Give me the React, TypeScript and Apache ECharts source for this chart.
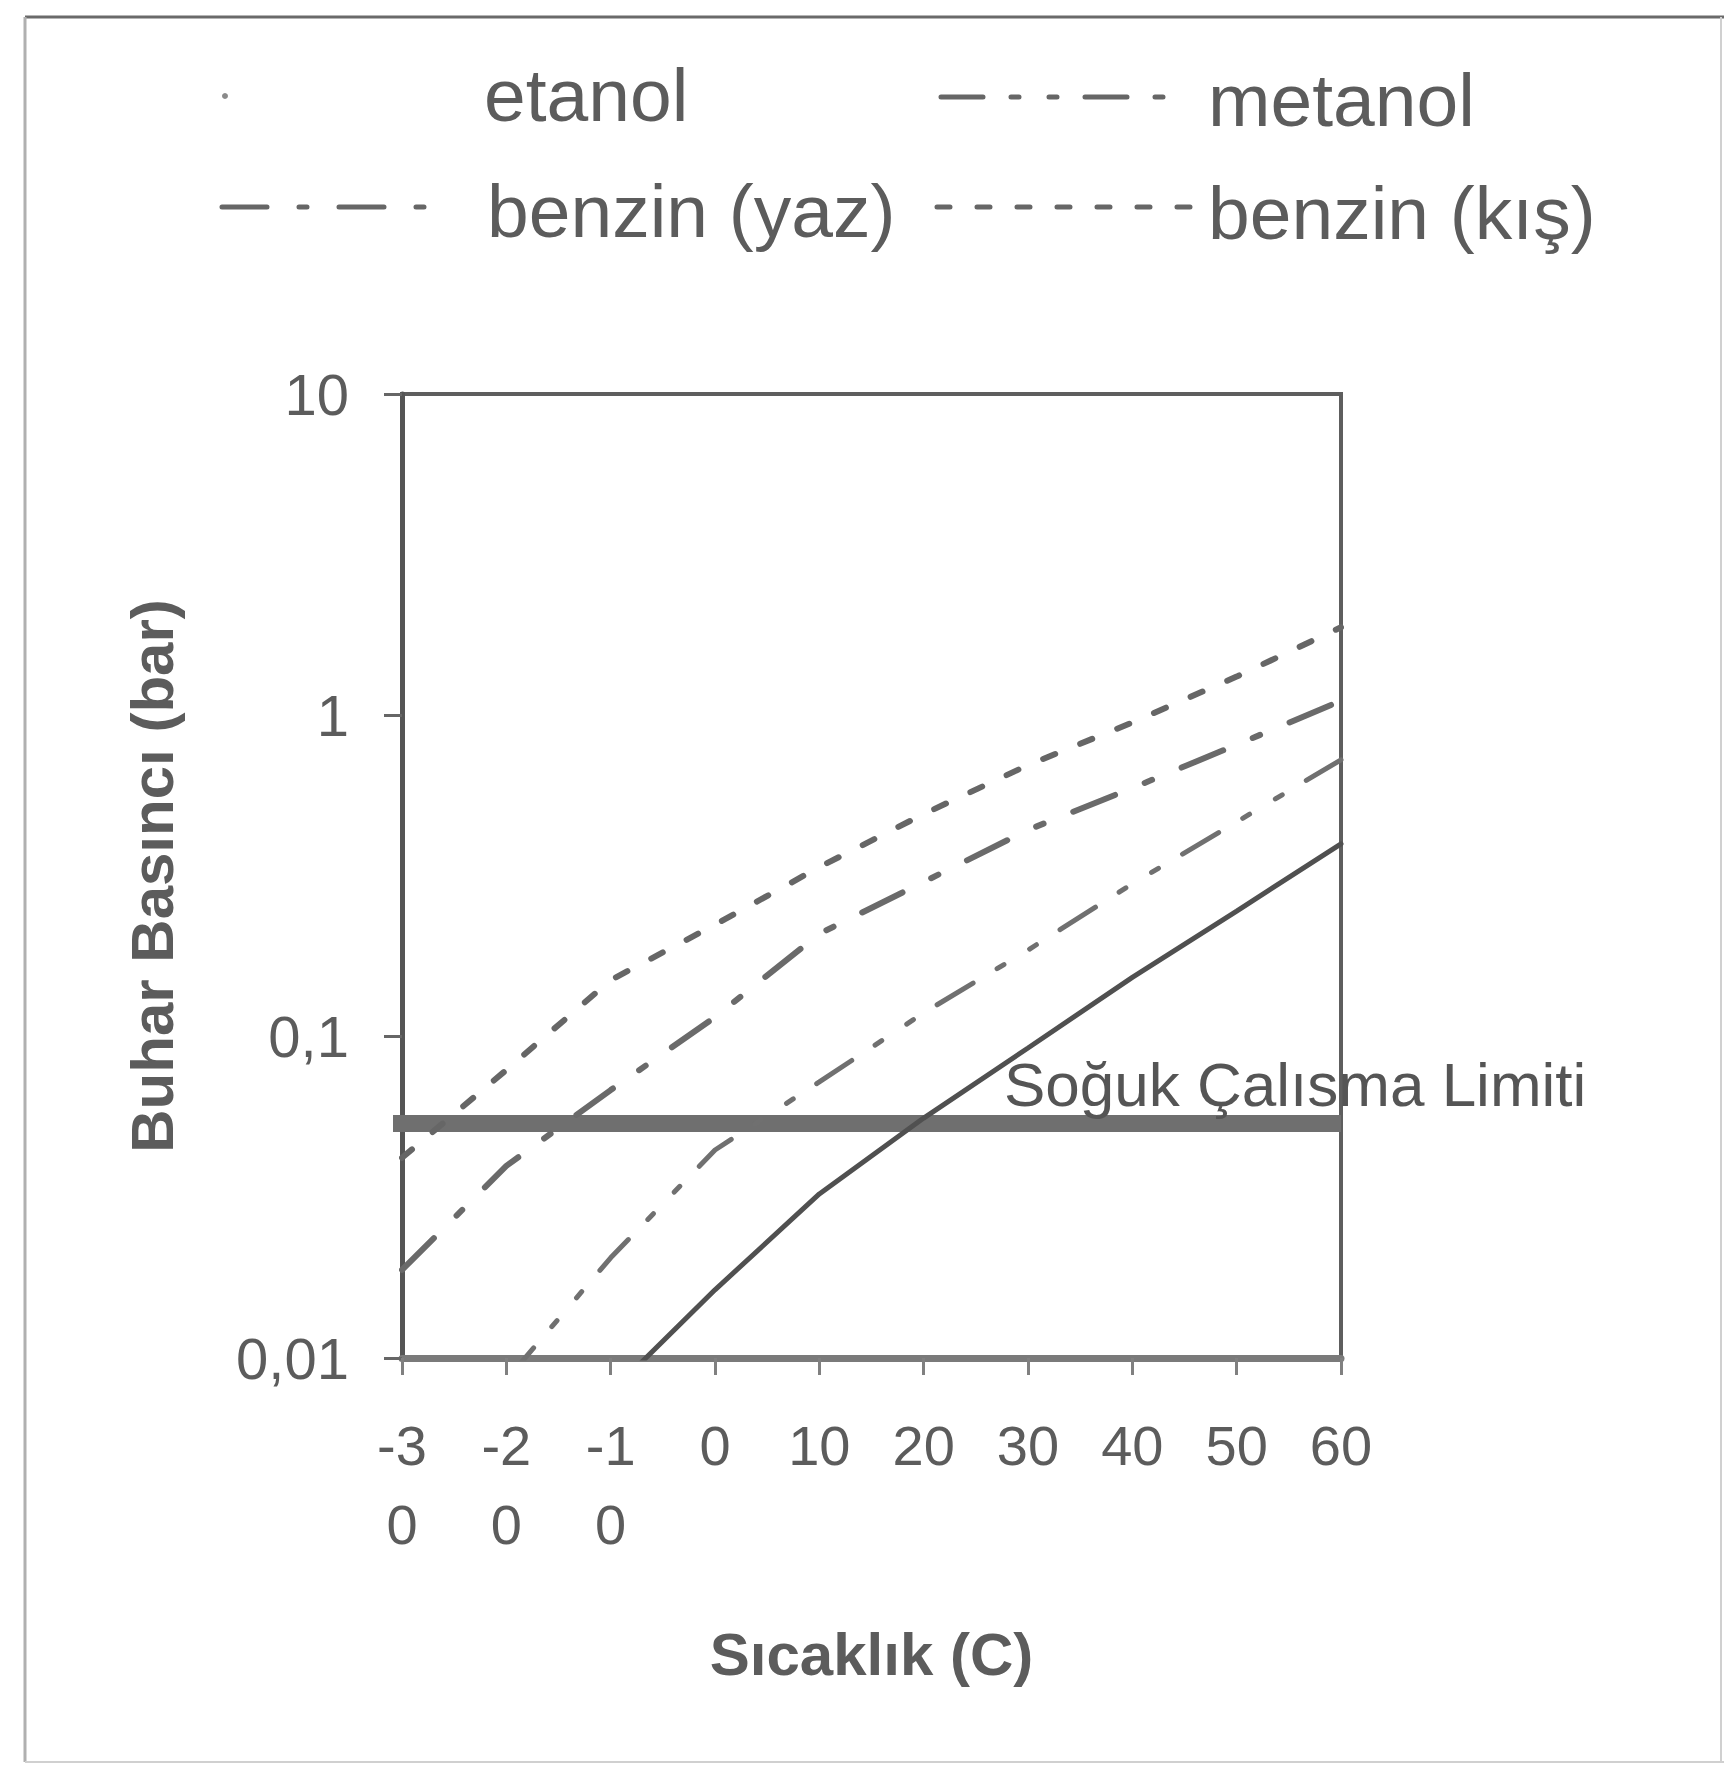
import React, { useEffect, useRef } from "react";
import * as echarts from "echarts";

// ---- data ----
const temperatures = [-30, -20, -10, 0, 10, 20, 30, 40, 50, 60];
const xTickLabels = ["-3\n0", "-2\n0", "-1\n0", "0", "10", "20", "30", "40", "50", "60"];
const yTickValues = [0.01, 0.1, 1, 10];
const yTickLabels = ["0,01", "0,1", "1", "10"];

const etanol = [null, null, 0.0078, 0.0163, 0.0324, 0.0558, 0.0922, 0.153, 0.246, 0.398];
const metanol = [null, 0.00855, 0.0205, 0.0444, 0.0723, 0.1186, 0.186, 0.299, 0.466, 0.727];
const benzinYaz = [0.0188, 0.0396, 0.0682, 0.115, 0.209, 0.303, 0.44, 0.594, 0.81, 1.11];
const benzinKis = [0.042, 0.0788, 0.15, 0.223, 0.337, 0.493, 0.7, 0.95, 1.32, 1.88];

const limitValue = 0.0537;
const limitRange = [-32.6, 60];
const limitLabel = "Soğuk Çalısma Limiti";

const seriesNames = ["etanol", "metanol", "benzin (yaz)", "benzin (kış)"];
const xAxisName = "Sıcaklık (C)";
const yAxisName = "Buhar Basıncı (bar)";

// ---- styles ----
const FONT = '"Liberation Sans", Arial, sans-serif';
const TEXT = "#5c5c5c";
const dashMetanol = [42, 28, 8, 30, 8, 28];
const dashYaz = [45, 32, 8, 32];
const dashKis = [13, 27];

const pairs = (vals: (number | null)[]) =>
  temperatures.map((t, i) => [t, vals[i]]).filter((p) => p[1] != null);

function buildOption() {
  const lineSeries = (name: string, vals: (number | null)[], type: any, width: number, color: string) => ({
    name,
    type: "line",
    data: pairs(vals),
    showSymbol: false,
    symbol: "none",
    smooth: false,
    clip: true,
    lineStyle: { color, width, type, cap: "round" },
    z: 3,
  });

  const legendText = (text: string, x: number, y: number) => ({
    type: "text",
    x,
    y,
    style: { text, fontSize: 75, fontFamily: FONT, fill: TEXT, verticalAlign: "middle", align: "left" },
  });
  const legendLine = (x1: number, x2: number, y: number, dash: number[] | null, width: number) => ({
    type: "line",
    shape: { x1, y1: y, x2, y2: y },
    style: { stroke: "#666", lineWidth: width, lineDash: dash || undefined, lineCap: "round" },
  });

  return {
    animation: false,
    backgroundColor: "#ffffff",
    textStyle: { fontFamily: FONT },
    grid: {
      left: 402,
      top: 394,
      right: 383,
      bottom: 409,
      containLabel: false,
      outerBoundsMode: "none",
      show: true,
      borderColor: "#5e5e5e",
      borderWidth: 4,
      backgroundColor: "transparent",
    },
    xAxis: {
      type: "value",
      min: -30,
      max: 60,
      interval: 10,
      name: xAxisName,
      nameLocation: "middle",
      nameGap: 266,
      nameTextStyle: { fontSize: 60, fontWeight: "bold", color: TEXT, fontFamily: FONT },
      axisLine: { show: true, onZero: false, lineStyle: { color: "#7a7a7a", width: 7 } },
      axisTick: { show: true, inside: false, length: 17, lineStyle: { color: "#808080", width: 3 } },
      splitLine: { show: false },
      axisLabel: {
        fontSize: 56,
        lineHeight: 79,
        color: TEXT,
        fontFamily: FONT,
        margin: 48,
        formatter: (v: number) => {
          const i = temperatures.indexOf(Math.round(v));
          return i >= 0 ? xTickLabels[i] : "";
        },
      },
    },
    yAxis: {
      type: "log",
      logBase: 10,
      min: 0.01,
      max: 10,
      name: yAxisName,
      nameLocation: "middle",
      nameGap: 220,
      nameRotate: 90,
      nameTextStyle: { fontSize: 60, fontWeight: "bold", color: TEXT, fontFamily: FONT },
      axisLine: { show: true, onZero: false, lineStyle: { color: "#555", width: 5 } },
      axisTick: { show: true, inside: false, length: 18, lineStyle: { color: "#666", width: 3 } },
      minorTick: { show: false },
      splitLine: { show: false },
      axisLabel: {
        fontSize: 58,
        color: TEXT,
        fontFamily: FONT,
        margin: 53,
        formatter: (v: number) => {
          let best = 0;
          yTickValues.forEach((t, i) => {
            if (Math.abs(Math.log10(t) - Math.log10(v)) < Math.abs(Math.log10(yTickValues[best]) - Math.log10(v))) best = i;
          });
          return yTickLabels[best];
        },
      },
    },
    series: [
      {
        name: limitLabel,
        type: "line",
        data: limitRange.map((t) => [t, limitValue]),
        showSymbol: false,
        symbol: "none",
        clip: false,
        lineStyle: { color: "#6f6f6f", width: 17, type: "solid", cap: "butt" },
        z: 2,
      },
      lineSeries(seriesNames[0], etanol, "solid", 5, "#505050"),
      lineSeries(seriesNames[1], metanol, dashMetanol, 5, "#707070"),
      lineSeries(seriesNames[2], benzinYaz, dashYaz, 6, "#6a6a6a"),
      lineSeries(seriesNames[3], benzinKis, dashKis, 6, "#666666"),
    ],
    graphic: [
      // outer frame
      { type: "line", shape: { x1: 25, y1: 17, x2: 1724, y2: 17 }, style: { stroke: "#6a6a6a", lineWidth: 3 } },
      { type: "line", shape: { x1: 25, y1: 17, x2: 25, y2: 1762 }, style: { stroke: "#b0b0b0", lineWidth: 3 } },
      { type: "line", shape: { x1: 25, y1: 1762, x2: 1724, y2: 1762 }, style: { stroke: "#d0d0d0", lineWidth: 2 } },
      { type: "line", shape: { x1: 1721, y1: 17, x2: 1721, y2: 1762 }, style: { stroke: "#d0d0d0", lineWidth: 2 } },
      // legend
      { type: "circle", shape: { cx: 225, cy: 96, r: 3 }, style: { fill: "#8a8a8a" } },
      legendText(seriesNames[0], 484, 95),
      legendLine(941, 1170, 97, dashMetanol, 5),
      legendText(seriesNames[1], 1208, 100),
      legendLine(222, 451, 207, dashYaz, 5),
      legendText(seriesNames[2], 487, 211),
      legendLine(937, 1194, 207, dashKis, 5),
      legendText(seriesNames[3], 1208, 213),
      // limit label
      {
        type: "text",
        x: 1004,
        y: 1084,
        z: 10,
        style: { text: limitLabel, fontSize: 62, fontFamily: FONT, fill: "#555", verticalAlign: "middle", align: "left" },
      },
    ],
  };
}

export default function App() {
  const ref = useRef<HTMLDivElement>(null);
  useEffect(() => {
    const chart = echarts.init(ref.current!, null, { renderer: "svg" });
    chart.setOption(buildOption() as any);
    return () => chart.dispose();
  }, []);
  return (
    <div
      ref={ref}
      style={{ position: "absolute", left: 0, top: 0, width: 1724, height: 1767, background: "#fff" }}
    />
  );
}
